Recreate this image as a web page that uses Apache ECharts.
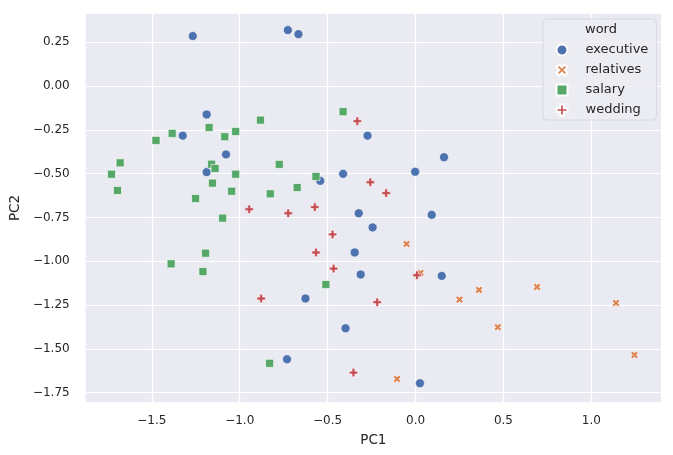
<!DOCTYPE html>
<html>
<head>
<meta charset="utf-8">
<script src="https://cdn.jsdelivr.net/npm/echarts@6/dist/echarts.min.js"></script>
<style>
  html, body { margin: 0; padding: 0; background: #fff; }
  #chart { width: 673px; height: 455px; }
</style>
</head>
<body>
<div id="chart"></div>
<script>
// PCA scatter, points grouped by word
const words = ['executive', 'relatives', 'salary', 'wedding']
const colors = ['#4C72B0', '#DD8452', '#55A868', '#C44E52']

const executive = [
  [-1.267, 0.286], [-0.726, 0.320], [-0.666, 0.297], [-1.188, -0.162],
  [-1.324, -0.283], [-1.078, -0.390], [-1.188, -0.491], [-0.542, -0.541],
  [-0.412, -0.501], [-0.273, -0.283], [0.162, -0.406], [-0.002, -0.489],
  [-0.323, -0.726], [0.092, -0.735], [-0.244, -0.807], [-0.346, -0.950],
  [-0.312, -1.076], [0.149, -1.084], [-0.626, -1.213], [-0.398, -1.383],
  [-0.731, -1.560], [0.025, -1.697]
]
const relatives = [
  [-0.051, -0.901], [0.028, -1.067], [0.250, -1.219], [-0.105, -1.672],
  [0.361, -1.164], [0.691, -1.147], [0.468, -1.377], [1.140, -1.238],
  [1.245, -1.535]
]
const salary = [
  [-1.729, -0.503], [-1.680, -0.438], [-1.695, -0.596], [-1.476, -0.310],
  [-1.384, -0.270], [-1.174, -0.236], [-1.085, -0.289], [-1.023, -0.259],
  [-1.160, -0.446], [-1.140, -0.470], [-1.023, -0.503], [-1.155, -0.554],
  [-1.046, -0.600], [-1.251, -0.642], [-1.097, -0.754], [-0.882, -0.194],
  [-0.412, -0.146], [-0.775, -0.447], [-0.566, -0.516], [-0.673, -0.579],
  [-0.826, -0.615], [-1.194, -0.954], [-1.390, -1.015], [-1.209, -1.059],
  [-0.510, -1.133], [-0.830, -1.583]
]
const wedding = [
  [-0.331, -0.200], [-0.257, -0.549], [-0.167, -0.611], [-0.946, -0.703],
  [-0.724, -0.726], [-0.573, -0.691], [-0.472, -0.847], [-0.566, -0.950],
  [-0.466, -1.042], [0.008, -1.080], [-0.878, -1.213], [-0.218, -1.234],
  [-0.353, -1.636]
]

const xTicks = [-1.5, -1.0, -0.5, 0.0, 0.5, 1.0]
const yTicks = [0.25, 0.0, -0.25, -0.5, -0.75, -1.0, -1.25, -1.5, -1.75]

const plusPath = 'path://M2,0H4V2H6V4H4V6H2V4H0V2H2Z'
const xPath = 'path://M1.5,0L3,1.5L4.5,0L6,1.5L4.5,3L6,4.5L4.5,6L3,4.5L1.5,6L0,4.5L1.5,3L0,1.5Z'
const symbols = ['circle', xPath, 'rect', plusPath]
const sizes = [9, 7.5, 8, 8.5]

const fmt = (v, d) => (v < 0 ? '\u2212' : '') + Math.abs(v).toFixed(d)
const textColor = '#262626'
const font = 'DejaVu Sans'

const chart = echarts.init(document.getElementById('chart'))

chart.setOption({
  animation: false,
  backgroundColor: '#fff',
  textStyle: { fontFamily: font },
  grid: { left: 81, right: 12, top: 14, bottom: 53, backgroundColor: '#EAEAF2', show: true, borderWidth: 0 },
  xAxis: {
    type: 'value', min: -1.876, max: 1.396,
    name: 'PC1', nameLocation: 'middle', nameGap: 31,
    nameTextStyle: { color: textColor, fontSize: 13.5, fontFamily: font },
    axisLine: { show: false },
    axisTick: { show: false, customValues: xTicks },
    axisLabel: {
      customValues: xTicks, color: textColor, fontSize: 12, margin: 13, fontFamily: font,
      formatter: v => fmt(v, 1)
    },
    splitLine: { show: true, lineStyle: { color: '#fff', width: 1.2 } }
  },
  yAxis: {
    type: 'value', min: -1.804, max: 0.412,
    name: 'PC2', nameLocation: 'middle', nameGap: 60,
    nameTextStyle: { color: textColor, fontSize: 13.5, fontFamily: font },
    axisLine: { show: false },
    axisTick: { show: false, customValues: yTicks },
    axisLabel: {
      customValues: yTicks, color: textColor, fontSize: 12, margin: 16, fontFamily: font,
      formatter: v => fmt(v, 2)
    },
    splitLine: { show: true, lineStyle: { color: '#fff', width: 1.2 } }
  },
  legend: {
    orient: 'vertical', left: 543, top: 19,
    padding: [24, 8, 3, 12.5],
    itemWidth: 11, itemHeight: 11, itemGap: 6,
    backgroundColor: 'rgba(236,236,243,0.85)', borderColor: '#d8d8e0', borderWidth: 1, borderRadius: 4,
    textStyle: { color: textColor, fontSize: 13, lineHeight: 14, fontFamily: font, padding: [0, 0, 0, 13] },
    data: words
  },
  graphic: [{
    type: 'text', left: 585, top: 23, z: 100,
    style: { text: 'word', fill: textColor, fontSize: 13, fontFamily: font }
  }],
  series: [executive, relatives, salary, wedding].map((pts, i) => ({
    name: words[i],
    type: 'scatter',
    data: pts,
    symbol: symbols[i],
    symbolSize: sizes[i],
    itemStyle: { color: colors[i], borderColor: '#fff', borderWidth: 0.6, opacity: 1 }
  }))
})
</script>
</body>
</html>
